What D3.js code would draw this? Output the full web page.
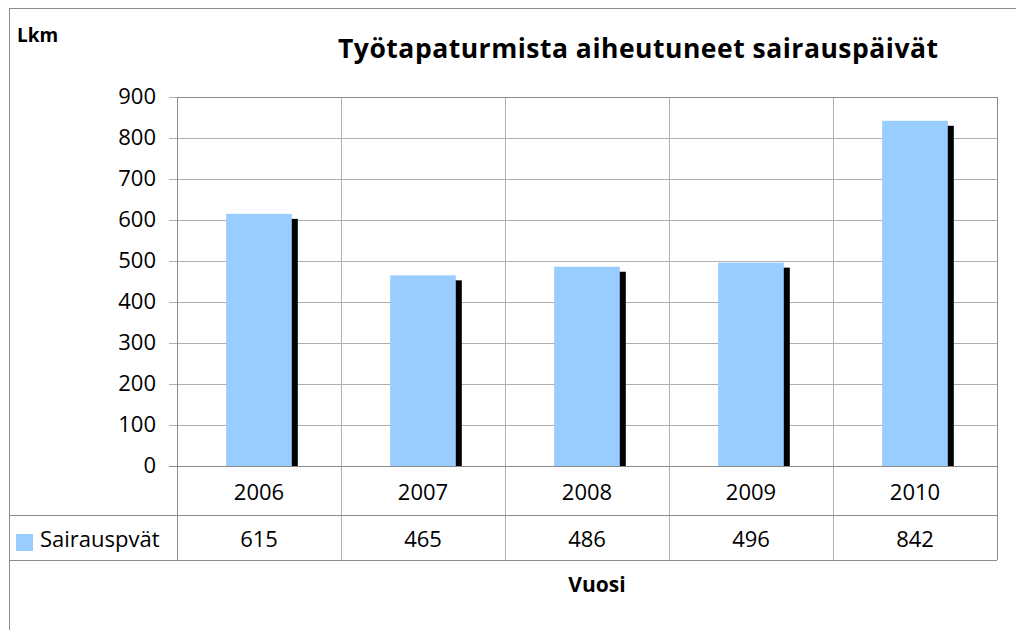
<!DOCTYPE html>
<html>
<head>
<meta charset="utf-8">
<script src="https://cdn.jsdelivr.net/npm/d3@7"></script>
<style>
  body { margin: 0; background: #fff; }
  svg text { font-family: "Open Sans", "Noto Sans", sans-serif; fill: #000; }
</style>
</head>
<body>
<div class="chart"></div>
<script>
// ---- data ----
const years = ["2006", "2007", "2008", "2009", "2010"];
const values = [615, 465, 486, 496, 842];
const yTicks = [0, 100, 200, 300, 400, 500, 600, 700, 800, 900];
const seriesName = "Sairauspvät";

const W = 1016, H = 630;
const plot = {left: 177, right: 997, top: 97, bottom: 466};
const rowH1 = 49, rowH2 = 45;  // table rows under the axis
const gridColor = "#b0b0b0", borderColor = "#8c8c8c";
const labelSize = 22;

const svg = d3.select(".chart").append("svg")
    .attr("width", W)
    .attr("height", H);

// outer frame
svg.append("rect")
    .attr("x", 9.5).attr("y", 8.5)
    .attr("width", W + 20).attr("height", H + 20)
    .attr("fill", "none")
    .attr("stroke", borderColor);

const xScale = d3.scaleBand()
    .domain(years)
    .range([plot.left, plot.right])
    .paddingInner(0)
    .paddingOuter(0);

const yScale = d3.scaleLinear()
    .domain([0, 900])
    .range([plot.bottom, plot.top]);

// horizontal gridlines + ticks
const yAxis = d3.axisLeft(yScale)
    .tickValues(yTicks)
    .tickSize(plot.right - plot.left + 8)
    .tickPadding(13)
    .tickFormat(d3.format("d"));

const gy = svg.append("g")
    .attr("transform", `translate(${plot.right},0)`)
    .call(yAxis);
gy.select(".domain").remove();
gy.selectAll(".tick line").attr("stroke", gridColor)
    .attr("shape-rendering", "crispEdges");
gy.selectAll(".tick text")
    .attr("font-size", labelSize)
    .attr("dy", "0.3em");

// vertical lines between categories, down through table
const table1 = plot.bottom + rowH1, table2 = table1 + rowH2;
const bounds = years.map(d => xScale(d)).concat([plot.right]);
svg.append("g").selectAll("line")
    .data(bounds)
    .join("line")
    .attr("x1", d => d).attr("x2", d => d)
    .attr("y1", plot.top).attr("y2", table2)
    .attr("stroke", (d, i) => (i === 0 || i === bounds.length - 1) ? borderColor : gridColor)
    .attr("shape-rendering", "crispEdges");

// plot top border
svg.append("line")
    .attr("x1", plot.left).attr("x2", plot.right)
    .attr("y1", plot.top).attr("y2", plot.top)
    .attr("stroke", borderColor)
    .attr("shape-rendering", "crispEdges");

// table horizontal lines
[table1, table2].forEach(y => {
  svg.append("line")
      .attr("x1", 10).attr("x2", plot.right)
      .attr("y1", y).attr("y2", y)
      .attr("stroke", borderColor)
      .attr("shape-rendering", "crispEdges");
});

// bars with shadow
const barW = xScale.bandwidth() * 0.4;
const barX = d => xScale(d) + (xScale.bandwidth() - barW) / 2;

svg.append("g").selectAll("rect")
    .data(values)
    .join("rect")
    .attr("x", (d, i) => barX(years[i]) + 6)
    .attr("y", d => yScale(d) + 5)
    .attr("width", barW)
    .attr("height", d => plot.bottom - yScale(d) - 5)
    .attr("fill", "#000");

svg.append("g").selectAll("rect")
    .data(values)
    .join("rect")
    .attr("x", (d, i) => barX(years[i]))
    .attr("y", d => yScale(d))
    .attr("width", barW)
    .attr("height", d => plot.bottom - yScale(d))
    .attr("fill", "#99ccff");

// zero line on top
svg.append("line")
    .attr("x1", plot.left - 8).attr("x2", plot.right)
    .attr("y1", plot.bottom).attr("y2", plot.bottom)
    .attr("stroke", borderColor)
    .attr("shape-rendering", "crispEdges");

// year labels
svg.append("g").selectAll("text")
    .data(years)
    .join("text")
    .attr("x", d => xScale(d) + xScale.bandwidth() / 2)
    .attr("y", plot.bottom + 34)
    .attr("text-anchor", "middle")
    .attr("font-size", labelSize)
    .text(d => d);

// value row
svg.append("g").selectAll("text")
    .data(values)
    .join("text")
    .attr("x", (d, i) => xScale(years[i]) + xScale.bandwidth() / 2)
    .attr("y", table1 + 32)
    .attr("text-anchor", "middle")
    .attr("font-size", labelSize)
    .text(d => d);

// legend key
svg.append("rect")
    .attr("x", 16).attr("y", 534)
    .attr("width", 17).attr("height", 17)
    .attr("fill", "#99ccff");
svg.append("text")
    .attr("x", 40).attr("y", table1 + 32)
    .attr("font-size", labelSize)
    .text(seriesName);

// titles
svg.append("text")
    .attr("x", 338).attr("y", 58)
    .attr("font-size", 26.5)
    .attr("font-weight", "bold")
    .attr("textLength", 600)
    .attr("lengthAdjust", "spacing")
    .text("Työtapaturmista aiheutuneet sairauspäivät");

svg.append("text")
    .attr("x", 17).attr("y", 42)
    .attr("font-size", 19)
    .attr("font-weight", "bold")
    .text("Lkm");

svg.append("text")
    .attr("x", 597).attr("y", 592)
    .attr("text-anchor", "middle")
    .attr("font-size", 21)
    .attr("font-weight", "bold")
    .text("Vuosi");
</script>
</body>
</html>
